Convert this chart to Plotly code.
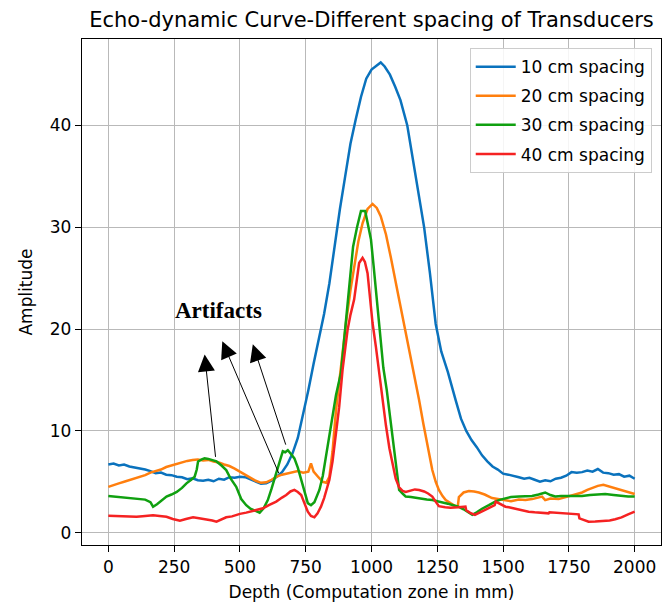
import plotly.graph_objects as go

# Echo-dynamic amplitude vs depth for four transducer spacings
depth_10 = [0, 20, 40, 60, 80, 100, 120, 140, 160, 180, 200, 220, 240, 260, 280, 300, 320, 340, 360, 380,
            400, 420, 440, 460, 480, 500, 520, 540, 560, 580, 600, 620, 640, 660, 680, 700, 720, 740, 760, 780,
            800, 820, 840, 860, 880, 900, 920, 940, 960, 980, 1000, 1020, 1035, 1050, 1070, 1090, 1110, 1136,
            1155, 1175, 1200, 1222, 1244, 1265, 1290, 1320, 1340, 1360, 1380, 1400, 1420, 1440, 1460, 1480,
            1500, 1520, 1540, 1560, 1580, 1600, 1620, 1640, 1660, 1680, 1700, 1720, 1740, 1760, 1780, 1800,
            1820, 1840, 1860, 1880, 1900, 1920, 1940, 1960, 1980, 2000]
amp_10 = [6.7, 6.8, 6.6, 6.7, 6.5, 6.4, 6.35, 6.2, 6.05, 5.85, 5.9, 5.7, 5.65, 5.5, 5.45, 5.25, 5.35, 5.15, 5.1, 5.2,
          5.05, 5.3, 5.2, 5.45, 5.4, 5.5, 5.45, 5.25, 5.05, 4.8, 4.85, 5.1, 5.5, 5.95, 6.7, 7.8, 9.3, 11.6, 14.0, 16.6,
          19.0, 21.5, 24.5, 28.2, 31.8, 35.0, 38.2, 40.6, 42.8, 44.6, 45.5, 45.9, 46.2, 45.8, 45.0, 43.8, 42.5, 40.0,
          37.0, 33.7, 30.0, 25.5, 20.5, 17.8, 15.8, 13.0, 11.2, 10.0, 9.1, 8.4, 7.6, 7.0, 6.5, 6.2,
          5.8, 5.7, 5.6, 5.45, 5.3, 5.4, 5.2, 5.0, 5.15, 5.05, 5.3, 5.4, 5.6, 5.95, 5.9, 5.95,
          6.1, 6.0, 6.25, 5.9, 5.85, 5.7, 5.75, 5.5, 5.6, 5.3]

depth_20 = [0, 20, 40, 60, 80, 100, 120, 140, 160, 180, 200, 220, 240, 260, 280, 300, 320, 340, 360, 380,
            400, 420, 440, 460, 480, 500, 520, 540, 560, 580, 600, 620, 640, 660, 680, 700, 720, 740, 760, 770,
            780, 800, 815, 828, 840, 852, 865, 885, 903, 920, 934, 950, 966, 985, 1004, 1020, 1035, 1055, 1073,
            1090, 1105, 1125, 1143, 1162, 1181, 1197, 1212, 1222, 1231, 1244, 1256, 1270, 1282, 1300, 1320,
            1328, 1332, 1350, 1370, 1390, 1408, 1430, 1458, 1480, 1509, 1530, 1560, 1585, 1610, 1630, 1648,
            1660, 1680, 1711, 1740, 1774, 1800, 1820, 1837, 1860, 1881, 1900, 1920, 1940, 1960, 1980, 2000]
amp_20 = [4.5, 4.7, 4.85, 5.0, 5.15, 5.3, 5.5, 5.65, 5.9, 6.05, 6.2, 6.45, 6.6, 6.8, 6.9, 7.05, 7.15, 7.2, 7.1, 7.15,
          7.0, 6.9, 6.7, 6.55, 6.3, 6.0, 5.7, 5.4, 5.1, 4.9, 4.95, 5.2, 5.5, 5.7, 5.8, 5.95, 6.05, 5.9, 6.0, 6.8,
          6.0, 5.4, 5.0, 4.9, 5.5, 8.0, 12.0, 16.5, 20.6, 23.8, 26.2, 28.6, 30.4, 31.8, 32.3, 31.9, 31.1, 29.3, 27.1,
          25.0, 22.9, 20.3, 18.0, 15.5, 13.0, 10.7, 8.8, 7.3, 6.15, 5.0, 4.2, 3.6, 3.2, 2.9, 2.6,
          2.6, 3.5, 3.95, 4.1, 4.05, 3.95, 3.75, 3.4, 3.3, 3.2, 3.1, 3.25, 3.2, 3.3, 3.45, 3.55,
          3.2, 3.35, 3.3, 3.5, 3.7, 3.95, 4.2, 4.35, 4.6, 4.7, 4.55, 4.4, 4.2, 4.05, 3.95, 3.8]

depth_30 = [0, 20, 40, 60, 80, 100, 120, 140, 160, 170, 185, 200, 221, 240, 260, 280, 297, 315, 328, 336,
            341, 355, 366, 380, 395, 411, 430, 448, 465, 486, 505, 524, 540, 560, 575, 590, 606, 620, 638, 650,
            663, 672, 682, 695, 707, 720, 733, 745, 758, 770, 783, 802, 815, 827, 840, 852, 865, 884, 897, 909,
            920, 930, 945, 960, 976, 987, 998, 1008, 1017, 1026, 1035, 1045, 1058, 1070, 1085, 1097, 1105,
            1120, 1130, 1150, 1170, 1190, 1210, 1231, 1250, 1270, 1290, 1310, 1330, 1350, 1365, 1383, 1400,
            1420, 1446, 1470, 1490, 1509, 1530, 1560, 1585, 1610, 1635, 1660, 1680, 1698, 1720, 1750, 1780,
            1800, 1830, 1860, 1888, 1920, 1950, 1975, 2000]
amp_30 = [3.6, 3.55, 3.5, 3.45, 3.4, 3.35, 3.3, 3.25, 3.0, 2.55, 2.8, 3.15, 3.55, 3.75, 4.0, 4.4, 4.85, 5.2, 5.5, 6.2,
          7.0, 7.2, 7.3, 7.25, 7.15, 7.0, 6.6, 6.15, 5.3, 4.5, 3.3, 2.7, 2.35, 2.1, 1.97, 2.4, 3.2, 4.3, 5.85, 7.0,
          8.0, 7.9, 8.1, 7.7, 7.3, 6.4, 5.2, 4.0, 2.9, 2.7, 3.0, 4.2, 5.6, 7.5, 9.5, 11.6, 13.5, 15.7, 19.0, 22.2,
          25.5, 28.1, 30.0, 31.6, 31.6, 30.2, 28.8, 26.2, 23.9, 21.4, 18.9, 16.2, 14.0, 11.5, 8.0, 5.3, 4.2,
          3.8, 3.55, 3.5, 3.4, 3.3, 3.25, 3.2, 3.1, 3.0, 2.85, 2.7, 2.55, 2.3, 2.05, 1.75, 2.0,
          2.35, 2.7, 3.05, 3.25, 3.4, 3.5, 3.55, 3.6, 3.6, 3.75, 3.95, 3.7, 3.55, 3.6, 3.6, 3.65,
          3.6, 3.7, 3.75, 3.8, 3.7, 3.6, 3.55, 3.55]

depth_40 = [0, 20, 40, 60, 80, 107, 130, 150, 170, 195, 221, 245, 272, 295, 322, 345, 373, 395, 411, 430,
            448, 470, 500, 524, 550, 570, 588, 610, 638, 660, 676, 692, 707, 720, 733, 745, 758, 770, 783, 795,
            808, 820, 830, 840, 852, 865, 877, 890, 900, 909, 920, 934, 945, 953, 966, 975, 985, 995, 1004,
            1017, 1029, 1042, 1055, 1068, 1080, 1092, 1105, 1118, 1130, 1150, 1165, 1181, 1200, 1215, 1231,
            1245, 1256, 1280, 1300, 1330, 1357, 1360, 1375, 1393, 1410, 1433, 1450, 1468, 1472, 1490, 1509,
            1522, 1545, 1570, 1597, 1620, 1650, 1673, 1676, 1700, 1737, 1787, 1790, 1808, 1825, 1850, 1880,
            1905, 1926, 1950, 1975, 2000]
amp_40 = [1.67, 1.65, 1.6, 1.62, 1.58, 1.57, 1.62, 1.68, 1.71, 1.65, 1.57, 1.35, 1.18, 1.35, 1.51, 1.42, 1.32, 1.2, 1.08, 1.3,
          1.51, 1.6, 1.85, 1.97, 2.15, 2.3, 2.4, 2.7, 3.05, 3.45, 3.7, 4.05, 4.2, 4.0, 3.7, 2.9, 2.06, 1.65, 1.51, 1.9,
          2.56, 3.4, 4.2, 5.2, 7.0, 9.6, 12.3, 16.0, 18.0, 19.9, 21.4, 22.9, 25.0, 26.5, 27.0, 26.6, 25.5, 23.0, 20.6,
          18.2, 15.7, 13.0, 10.5, 8.3, 6.8, 5.3, 4.46, 4.1, 4.0, 4.15, 4.25, 4.2, 4.05, 3.85, 3.55,
          3.0, 2.6, 2.5, 2.45, 2.5, 2.56, 2.2, 1.95, 1.75, 1.95, 2.23, 2.45, 2.7, 3.05, 2.8, 2.55,
          2.5, 2.35, 2.2, 2.06, 2.0, 1.95, 1.9, 2.0, 1.95, 1.84, 1.8, 1.41, 1.2, 1.08, 1.1, 1.15,
          1.2, 1.32, 1.5, 1.8, 2.06]

series = [
    ("10 cm spacing", depth_10, amp_10, "#0a72bd"),
    ("20 cm spacing", depth_20, amp_20, "#ff7f0e"),
    ("30 cm spacing", depth_30, amp_30, "#10a010"),
    ("40 cm spacing", depth_40, amp_40, "#f52222"),
]

x_ticks = [0, 250, 500, 750, 1000, 1250, 1500, 1750, 2000]
y_ticks = [0, 10, 20, 30, 40]

# Arrows pointing from the artifact bumps up to the label (head, tail) in data units
artifact_arrows = [
    ((366, 17.5), (408, 7.3)),
    ((433, 18.8), (650, 5.7)),
    ((549, 18.5), (676, 8.5)),
]

FONT = "DejaVu Sans"

fig = go.Figure()
for i, (name, xs, ys, col) in enumerate(series):
    fig.add_trace(go.Scatter(
        x=xs, y=ys, mode="lines", name=name, legendgroup=f"g{i}",
        line=dict(color=col, width=2.5),
    ))

annotations = []
for (hx, hy), (tx, ty) in artifact_arrows:
    annotations.append(dict(
        x=hx, y=hy, ax=tx, ay=ty, xref="x", yref="y", axref="x", ayref="y",
        text="", showarrow=True, arrowhead=2, arrowsize=3.4, arrowwidth=1,
        arrowcolor="black", standoff=0, startstandoff=0,
    ))
annotations.append(dict(
    x=420, y=21.85, xref="x", yref="y", text="<b>Artifacts</b>", showarrow=False,
    font=dict(family="Liberation Serif", size=23, color="black"),
    xanchor="center", yanchor="middle",
))

axis_common = dict(
    showline=True, mirror=True, linecolor="black", linewidth=1.4,
    ticks="outside", ticklen=6, tickwidth=1.4, tickcolor="black",
    showgrid=True, gridcolor="#b9b9b9", gridwidth=1.4, zeroline=False,
    tickfont=dict(family=FONT, size=17, color="black"),
)

fig.update_layout(
    width=662, height=610,
    margin=dict(l=82, r=1, t=39, b=65),
    paper_bgcolor="white", plot_bgcolor="white",
    title=dict(text="Echo-dynamic Curve-Different spacing of Transducers",
               x=0.5, xref="paper", xanchor="center",
               y=1 - 20 / 610, yref="container", yanchor="middle",
               font=dict(family=FONT, size=21, color="black")),
    xaxis=dict(range=[-100, 2100], tickvals=x_ticks,
               title=dict(text="Depth (Computation zone in mm)", standoff=10,
                          font=dict(family=FONT, size=17, color="black")),
               automargin=False, **axis_common),
    yaxis=dict(range=[-1.21, 48.5], tickvals=y_ticks,
               title=dict(text="Amplitude", standoff=12,
                          font=dict(family=FONT, size=17, color="black")),
               automargin=False, **axis_common),
    legend=dict(x=0.984, y=0.982, xanchor="right", yanchor="top",
                bgcolor="rgba(255,255,255,0.85)", bordercolor="#cccccc", borderwidth=1,
                font=dict(family=FONT, size=17, color="black"),
                tracegroupgap=4, itemwidth=40),
    annotations=annotations,
    showlegend=True,
)

fig.write_html("out.html")
